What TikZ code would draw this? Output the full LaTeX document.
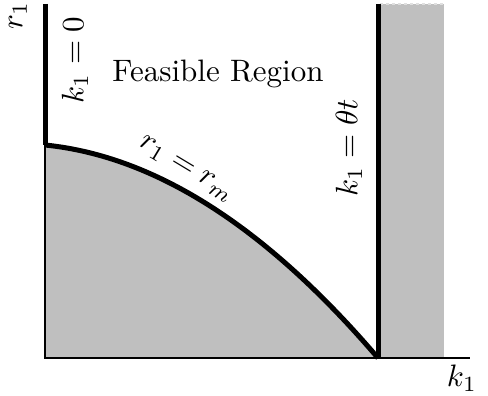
\documentclass[tikz,border=0pt]{standalone}
\begin{document}
\begin{tikzpicture}[x=1pt,y=-1pt,
  thickline/.style={line width=5pt},
  thinline/.style={line width=2.8pt},
  lbl/.style={inner sep=0pt, scale=3.1}]
\useasboundingbox (0,0) rectangle (488,396);
% shaded regions
\fill[gray!50] (45,145) .. controls (156,156.2) and (267,228) .. (378,358) -- (45,358) -- cycle;
\fill[gray!50] (378,4) rectangle (444,358);
\draw[gray!25, line width=1.2pt, dashed] (380,4) -- (444,4);
% axes
\draw[thinline] (45,145) -- (45,358) -- (470,358);
% boundaries
\draw[thickline] (45,4) -- (45,145);
\draw[thickline] (45,145) .. controls (156,156.2) and (267,228) .. (378,358);
\draw[thickline] (378,4) -- (378,358);
% labels
\node[lbl, rotate=90] (r1) at (18,16) {$r_1$};
\node[lbl, rotate=90] (k0) at (75,60) {$k_1=0$};
\node[lbl] (fr) at (218,74) {Feasible Region};
\node[lbl, rotate=-31] (rm) at (186,169) {$r_1=r_m$};
\node[lbl, rotate=90] (kt) at (349,148) {$k_1=\theta t$};
\node[lbl] (k1) at (462,378) {$k_1$};
\end{tikzpicture}
\end{document}
